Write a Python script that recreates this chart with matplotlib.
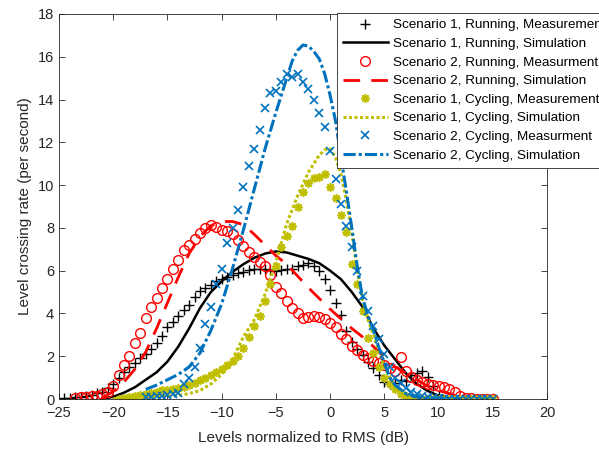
import numpy as np
import matplotlib
matplotlib.use('Agg')
import matplotlib.pyplot as plt

plt.rcParams['font.family'] = ['Liberation Sans', 'DejaVu Sans']

# Scenario 1, Running, Measurement
s1_run_meas_x = [-24.5, -24, -23.5, -23, -22.5, -22, -21.5, -21, -20.5, -20,
                 -19.5, -19, -18.5, -18, -17.5, -17, -16.5, -16, -15.5, -15,
                 -14.5, -14, -13.5, -13, -12.5, -12, -11.5, -11, -10.5, -10,
                 -9.5, -9, -8.5, -8, -7.5, -7, -6.5, -6, -5.5, -5,
                 -4.5, -4, -3.5, -3, -2.5, -2, -1.5, -1, -0.5, 0,
                 0.5, 1, 1.5, 2, 2.5, 3, 3.5, 4, 4.5, 5,
                 5.5, 6, 6.5, 7, 7.5, 8, 8.5, 9, 9.5, 10]
s1_run_meas_y = [0.05, 0.05, 0.08, 0.1, 0.15, 0.2, 0.28, 0.35, 0.5, 0.7,
                 1.0, 1.25, 1.5, 1.7, 1.9, 2.1, 2.35, 2.6, 2.95, 3.35,
                 3.6, 3.9, 4.15, 4.4, 4.75, 5.05, 5.2, 5.35, 5.5, 5.6,
                 5.7, 5.8, 5.9, 5.95, 6.05, 6.1, 6.1, 6.1, 6.05, 6.0,
                 6.05, 6.1, 6.1, 6.2, 6.25, 6.35, 6.2, 6.0, 5.6, 5.1,
                 4.5, 3.95, 3.2, 2.65, 2.35, 2.05, 1.75, 1.45, 1.1, 0.8,
                 0.7, 0.75, 0.9, 0.85, 1.1, 1.2, 1.3, 1.05, 0.6, 0.2]

# Scenario 1, Running, Simulation
s1_run_sim_x = [-21, -20, -19, -18, -17, -16, -15, -14, -13, -12, -11,
                -10, -9, -8, -7, -6, -5, -4, -3, -2, -1, 0,
                1, 2, 3, 4, 5, 6, 7, 8, 9, 10, 11]
s1_run_sim_y = [0.02, 0.1, 0.3, 0.55, 0.9, 1.25, 1.75, 2.45, 3.3, 4.25, 5.0,
                5.5, 5.95, 6.3, 6.6, 6.8, 6.9, 6.85, 6.7, 6.55, 6.35, 6.0,
                5.6, 5.0, 4.3, 3.3, 2.5, 1.85, 1.2, 0.7, 0.38, 0.15, 0.05]

# Scenario 2, Running, Measurement
s2_run_meas_x = [-23.5, -23, -22.5, -22, -21.5, -21, -20.5, -20, -19.5, -19,
                 -18.5, -18, -17.5, -17, -16.5, -16, -15.5, -15, -14.5, -14,
                 -13.5, -13, -12.5, -12, -11.5, -11, -10.5, -10, -9.5, -9,
                 -8.5, -8, -7.5, -7, -6.5, -6, -5.5, -5, -4.5, -4,
                 -3.5, -3, -2.5, -2, -1.5, -1, -0.5, 0, 0.5, 1,
                 1.5, 2, 2.5, 3, 3.5, 4, 4.5, 5, 5.5, 6,
                 6.5, 7, 7.5, 8, 8.5, 9, 9.5, 10, 10.5, 11,
                 11.5, 12, 12.5, 13, 13.5, 14, 14.5, 15]
s2_run_meas_y = [0.05, 0.08, 0.1, 0.12, 0.15, 0.22, 0.35, 0.6, 1.1, 1.6,
                 2.0, 2.6, 3.1, 3.8, 4.3, 4.7, 5.2, 5.6, 6.1, 6.5,
                 6.95, 7.2, 7.5, 7.75, 8.0, 8.15, 8.05, 7.9, 7.85, 7.7,
                 7.45, 7.15, 6.85, 6.65, 6.4, 6.2, 5.8, 5.25, 4.95, 4.6,
                 4.25, 4.0, 3.8, 3.85, 3.9, 3.85, 3.75, 3.55, 3.35, 3.05,
                 2.8, 2.5, 2.3, 2.05, 1.9, 1.8, 1.7, 1.6, 1.45, 1.3,
                 1.95, 1.3, 1.05, 0.9, 0.8, 0.72, 0.67, 0.62, 0.55, 0.45,
                 0.35, 0.12, 0.05, 0.03, 0.02, 0.02, 0.02, 0.02]

# Scenario 2, Running, Simulation
s2_run_sim_x = [-21, -20, -19, -18, -17, -16, -15, -14, -13, -12, -11,
                -10, -9, -8, -7, -6, -5, -4, -3, -2, -1, 0,
                1, 2, 3, 4, 5, 6, 7, 8, 9, 10, 11, 12]
s2_run_sim_y = [0.05, 0.35, 0.8, 1.4, 2.2, 3.3, 4.5, 5.7, 6.8, 7.6, 8.1,
                8.3, 8.3, 8.15, 7.7, 7.2, 6.7, 6.3, 5.75, 5.2, 4.7, 4.2,
                3.75, 3.3, 2.9, 2.45, 1.95, 1.5, 1.2, 0.9, 0.6, 0.4, 0.25, 0.1]

# Scenario 1, Cycling, Measurement
s1_cyc_meas_x = [-19.5, -19, -18.5, -18, -17.5, -17, -16.5, -16, -15.5, -15,
                 -14.5, -14, -13.5, -13, -12.5, -12, -11.5, -11, -10.5, -10,
                 -9.5, -9, -8.5, -8, -7.5, -7, -6.5, -6, -5.5, -5,
                 -4.5, -4, -3.5, -3, -2.5, -2, -1.5, -1, -0.5, 0,
                 0.5, 1, 1.5, 2, 2.5, 3, 3.5, 4, 4.5, 5,
                 5.5, 6, 6.5, 7, 7.5, 8, 8.5, 9, 9.5, 10,
                 10.5, 11, 11.5, 12, 12.5, 13, 13.5, 14, 14.5, 15]
s1_cyc_meas_y = [0.02, 0.05, 0.1, 0.15, 0.2, 0.25, 0.3, 0.35, 0.4, 0.42,
                 0.47, 0.52, 0.58, 0.65, 0.75, 0.88, 1.0, 1.12, 1.25, 1.4,
                 1.6, 1.8, 2.0, 2.4, 2.9, 3.4, 3.9, 4.6, 5.4, 6.2,
                 7.1, 7.6, 8.1, 9.0, 9.7, 10.1, 10.35, 10.4, 10.5, 9.9,
                 9.4, 8.6, 7.8, 6.3, 5.4, 4.1, 2.85, 2.15, 1.5, 1.0,
                 0.7, 0.45, 0.22, 0.12, 0.06, 0.03, 0.02, 0.02, 0.02, 0.02,
                 0.02, 0.02, 0.02, 0.02, 0.02, 0.02, 0.02, 0.02, 0.02, 0.02]

# Scenario 1, Cycling, Simulation
s1_cyc_sim_x = [-20, -19, -18, -17, -16, -15, -14, -13, -12, -11,
                -10, -9, -8, -7, -6, -5, -4, -3, -2, -1, -0.5, 0,
                0.5, 1, 1.5, 2, 2.5, 3, 3.5, 4, 4.5, 5, 6, 7, 8, 9, 10]
s1_cyc_sim_y = [0.02, 0.04, 0.06, 0.08, 0.1, 0.13, 0.18, 0.25, 0.4, 0.7,
                1.15, 1.85, 2.9, 3.7, 4.9, 6.4, 8.2, 9.5, 10.6, 11.4, 11.65, 11.7,
                11.3, 10.5, 9.3, 7.8, 6.0, 4.6, 3.7, 3.0, 2.2, 1.5, 0.55, 0.2, 0.07, 0.02, 0.01]

# Scenario 2, Cycling, Measurement
s2_cyc_meas_x = [-17, -16.5, -16, -15.5, -15, -14.5, -14, -13.5, -13, -12.5,
                 -12, -11.5, -11, -10.5, -10, -9.5, -9, -8.5, -8, -7.5,
                 -7, -6.5, -6, -5.5, -5, -4.5, -4, -3.5, -3, -2.5,
                 -2, -1.5, -1, -0.5, 0, 0.5, 1, 1.5, 2, 2.5,
                 3, 3.5, 4, 4.5, 5, 5.5, 6, 6.5, 7, 7.5,
                 8, 8.5, 9, 9.5, 10, 10.5, 11, 11.5, 12, 12.5,
                 13, 13.5, 14, 14.5, 15]
s2_cyc_meas_y = [0.08, 0.1, 0.12, 0.15, 0.18, 0.22, 0.3, 0.7, 1.0, 1.5,
                 2.4, 3.5, 4.3, 5.4, 6.1, 7.3, 8.0, 8.85, 9.9, 10.9,
                 11.7, 12.6, 13.6, 14.3, 14.4, 14.8, 15.2, 15.05, 15.2, 14.8,
                 14.5, 14.0, 13.35, 12.7, 11.6, 10.3, 9.1, 8.1, 7.1, 6.0,
                 4.8, 4.1, 3.4, 2.8, 2.1, 1.5, 1.0, 0.75, 0.5, 0.35,
                 0.25, 0.15, 0.1, 0.06, 0.04, 0.02, 0.02, 0.02, 0.02, 0.02,
                 0.02, 0.02, 0.02, 0.02, 0.02]

# Scenario 2, Cycling, Simulation
s2_cyc_sim_x = [-17, -16, -15, -14, -13, -12, -11, -10, -9, -8, -7, -6, -5, -4, -3.5, -3,
                -2.5, -2, -1.5, -1, -0.5, 0, 0.5, 1, 1.5, 2, 2.5, 3, 3.5, 4, 4.5, 5,
                5.5, 6, 7, 8, 9, 10, 11, 12]
s2_cyc_sim_y = [0.45, 0.65, 0.9, 1.15, 1.5, 2.15, 3.2, 4.45, 6.1, 7.9, 9.8, 11.7, 13.4, 15.0, 15.8, 16.3,
                16.55, 16.5, 16.25, 15.9, 15.2, 14.2, 13.0, 11.3, 9.7, 8.0, 6.2, 4.7, 3.9, 3.2, 2.4, 1.7,
                1.0, 0.65, 0.25, 0.1, 0.04, 0.02, 0.01, 0.0]

yellow = '#BFBF00'
blue = '#0072BD'
axis_gray = '#262626'

fig = plt.figure(figsize=(5.99, 4.5), dpi=100)
ax = fig.add_axes([0.0985, 0.1133, 0.8147, 0.8556])

ax.plot(s1_run_meas_x, s1_run_meas_y, '+', color='black', ms=7, mew=1.0,
        label='Scenario 1, Running, Measuremen')
ax.plot(s1_run_sim_x, s1_run_sim_y, '-', color='black', lw=1.8,
        label='Scenario 1, Running, Simulation')
ax.plot(s2_run_meas_x, s2_run_meas_y, 'o', mfc='none', mec='red', ms=7, mew=1.0,
        label='Scenario 2, Running, Measurment')
ax.plot(s2_run_sim_x, s2_run_sim_y, color='red', lw=2, linestyle=(0, (6, 4)),
        label='Scenario 2, Running, Simulation')
ax.plot(s1_cyc_meas_x, s1_cyc_meas_y, linestyle='none', marker=(8, 2, 0), color=yellow,
        ms=6, mew=1.2, label='Scenario 1, Cycling, Measurement')
ax.plot(s1_cyc_sim_x, s1_cyc_sim_y, color=yellow, lw=2.2, linestyle=(0, (1, 0.8)),
        label='Scenario 1, Cycling, Simulation')
ax.plot(s2_cyc_meas_x, s2_cyc_meas_y, 'x', color=blue, ms=5.5, mew=1.2,
        label='Scenario 2, Cycling, Measurment')
ax.plot(s2_cyc_sim_x, s2_cyc_sim_y, color=blue, lw=2.2, linestyle=(0, (4, 1, 1, 1)),
        label='Scenario 2, Cycling, Simulation')

ax.set_xlim(-25, 20)
ax.set_ylim(0, 18)
ax.set_xticks(np.arange(-25, 21, 5))
ax.set_yticks(np.arange(0, 19, 2))
ax.tick_params(direction='in', top=True, right=True, labelsize=10.5, colors=axis_gray,
               length=4, width=0.6)
ax.tick_params(axis='x', pad=5)
for s in ax.spines.values():
    s.set_color(axis_gray)
    s.set_linewidth(0.6)

ax.set_xlabel('Levels normalized to RMS (dB)', fontsize=11, color=axis_gray, labelpad=8)
ax.set_ylabel('Level crossing rate (per second)', fontsize=11, color=axis_gray)

leg = ax.legend(loc='upper left', bbox_to_anchor=(0.57, 1.003), fontsize=9.7,
                handlelength=3.3, handletextpad=0.4, labelspacing=0.46,
                borderpad=0.45, borderaxespad=0, fancybox=False, framealpha=1,
                edgecolor=axis_gray)
leg.get_frame().set_linewidth(0.6)

plt.savefig('out.png', dpi=100)
